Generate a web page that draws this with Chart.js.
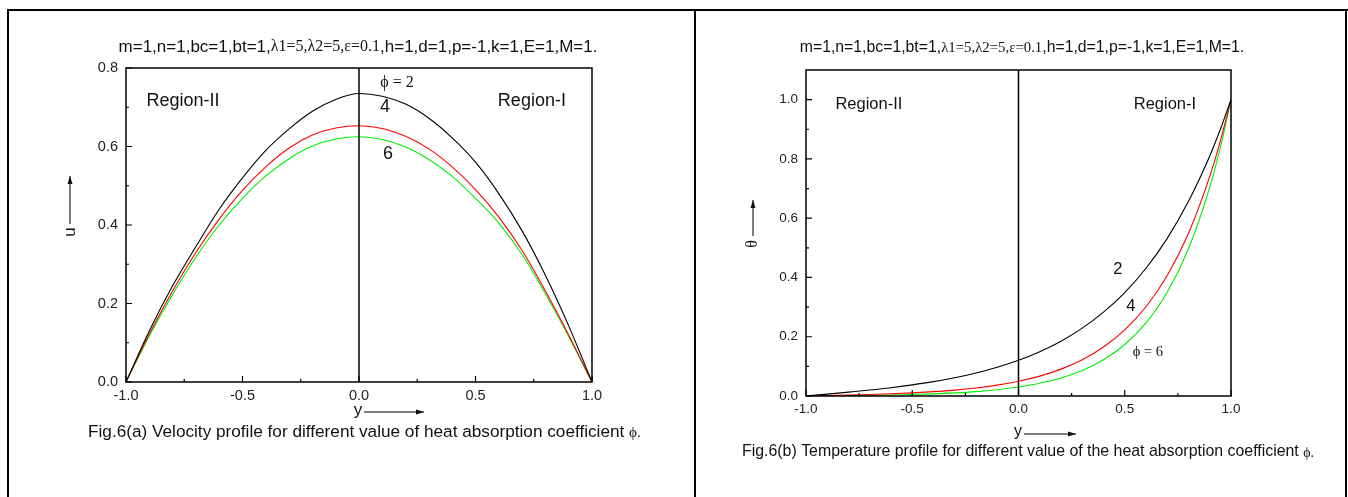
<!DOCTYPE html>
<html>
<head>
<meta charset="utf-8">
<script src="https://cdn.jsdelivr.net/npm/chart.js@4.4.1/dist/chart.umd.min.js"></script>
<style>
  body { margin: 0; background: #fff; width: 1348px; height: 497px; overflow: hidden; position: relative; }
  .rule { position: absolute; background: #000; }
  #boxA { position: absolute; left: 0; top: 0; width: 695px; height: 497px; }
  #boxB { position: absolute; left: 697px; top: 0; width: 651px; height: 497px; }
</style>
</head>
<body>
<div class="rule" style="left:7px;top:9px;width:1341px;height:2px"></div>
<div class="rule" style="left:7px;top:9px;width:2px;height:488px"></div>
<div class="rule" style="left:694px;top:9px;width:2px;height:488px"></div>
<div class="rule" style="left:1345px;top:9px;width:2px;height:488px"></div>
<div id="boxA"><canvas id="chartA" width="695" height="497"></canvas></div>
<div id="boxB"><canvas id="chartB" width="651" height="497"></canvas></div>
<script>
// ---- data ----
const Y_POS = [-1, -0.9, -0.8, -0.7, -0.6, -0.5, -0.4, -0.3, -0.2, -0.1, 0,
               0.1, 0.2, 0.3, 0.4, 0.5, 0.6, 0.7, 0.8, 0.9, 1]

// Fig.6(a) velocity u
const U_PHI2 = [0, 0.13, 0.245, 0.345, 0.44, 0.52, 0.59, 0.645, 0.69, 0.72, 0.735,
                0.728, 0.708, 0.672, 0.622, 0.56, 0.48, 0.385, 0.272, 0.143, 0]
const U_PHI4 = [0, 0.122, 0.232, 0.33, 0.415, 0.488, 0.548, 0.596, 0.629, 0.647, 0.653,
                0.646, 0.626, 0.594, 0.548, 0.49, 0.42, 0.335, 0.232, 0.12, 0]
const U_PHI6 = [0, 0.117, 0.223, 0.318, 0.4, 0.468, 0.525, 0.569, 0.601, 0.619, 0.625,
                0.618, 0.599, 0.567, 0.524, 0.468, 0.405, 0.325, 0.225, 0.116, 0]

// Fig.6(b) temperature theta
const Y_POS_T = [-1, -0.9, -0.8, -0.7, -0.6, -0.5, -0.4, -0.3, -0.2, -0.1, 0,
                 0.1, 0.2, 0.3, 0.4, 0.5, 0.6, 0.7, 0.8, 0.9, 0.95, 1]
const T_PHI2 = [0, 0.0063, 0.013, 0.02, 0.028, 0.0376, 0.0485, 0.0613, 0.0777, 0.097, 0.1206,
                0.1495, 0.185, 0.229, 0.283, 0.349, 0.431, 0.532, 0.657, 0.81, 0.9, 1]
const T_PHI4 = [0, 0.0015, 0.0032, 0.0051, 0.0075, 0.0106, 0.0146, 0.0199, 0.0271, 0.0367, 0.0497,
                0.0671, 0.0907, 0.1224, 0.1653, 0.2231, 0.3012, 0.4066, 0.549, 0.741, 0.861, 1]
const T_PHI6 = [0, 0.0007, 0.0014, 0.0023, 0.0035, 0.0051, 0.0073, 0.0105, 0.0149, 0.0212, 0.0302,
                0.0428, 0.0608, 0.0863, 0.1225, 0.1737, 0.2466, 0.3498, 0.4966, 0.7047, 0.8395, 1]

const X_TICKS = [-1, -0.5, 0, 0.5, 1]
const X_MINOR = [-0.75, -0.25, 0.25, 0.75]
const U_TICKS = [0, 0.2, 0.4, 0.6, 0.8]
const U_MINOR = [0.1, 0.3, 0.5, 0.7]
const T_TICKS = [0, 0.2, 0.4, 0.6, 0.8, 1.0]
const T_MINOR = [0.1, 0.3, 0.5, 0.7, 0.9]

const PARAM_TITLE = [
  ["m=1,n=1,bc=1,bt=1,", "sans"],
  ["\u03bb1=5,\u03bb2=5,\u03b5=0.1", "serif"],
  [",h=1,d=1,p=-1,k=1,E=1,M=1.", "sans"]
]
const PHI = "\u03d5"
const CAPTION_A = "Fig.6(a) Velocity profile for different value of heat absorption coefficient "
const CAPTION_B = "Fig.6(b) Temperature profile for different value of the heat absorption coefficient "

const SANS = '"Liberation Sans", Arial, sans-serif'
const SERIF = '"Liberation Serif", "Times New Roman", "DejaVu Serif", serif'

// ---- helpers ----
function pts(xs, ys) {
  return xs.map((x, i) => ({ x: x, y: ys[i] }))
}

function arrowLine(ctx, x1, y1, x2, y2) {
  ctx.beginPath()
  ctx.moveTo(x1, y1)
  ctx.lineTo(x2, y2)
  ctx.stroke()
  const ang = Math.atan2(y2 - y1, x2 - x1)
  ctx.beginPath()
  ctx.moveTo(x2, y2)
  ctx.lineTo(x2 - 8 * Math.cos(ang) + 2.5 * Math.sin(ang), y2 - 8 * Math.sin(ang) - 2.5 * Math.cos(ang))
  ctx.lineTo(x2 - 8 * Math.cos(ang) - 2.5 * Math.sin(ang), y2 - 8 * Math.sin(ang) + 2.5 * Math.cos(ang))
  ctx.closePath()
  ctx.fill()
}

// frame, inner ticks, annotations and captions
const decor = {
  id: "decor",
  afterDatasetsDraw(chart, args, o) {
    const { ctx, chartArea: a, scales: { x, y } } = chart
    ctx.save()
    ctx.strokeStyle = "#000"
    ctx.fillStyle = "#000"
    ctx.lineWidth = 1.5
    ctx.strokeRect(a.left, a.top, a.right - a.left, a.bottom - a.top)
    const zx = x.getPixelForValue(0)
    ctx.beginPath()
    ctx.moveTo(zx, a.top)
    ctx.lineTo(zx, a.bottom)
    ctx.stroke()

    // ticks pointing into the plot
    ctx.lineWidth = 1.2
    ctx.beginPath()
    X_TICKS.forEach(v => { const p = x.getPixelForValue(v); ctx.moveTo(p, a.bottom); ctx.lineTo(p, a.bottom - 6) })
    X_MINOR.forEach(v => { const p = x.getPixelForValue(v); ctx.moveTo(p, a.bottom); ctx.lineTo(p, a.bottom - 3) })
    o.yTicks.forEach(v => { const p = y.getPixelForValue(v); ctx.moveTo(a.left, p); ctx.lineTo(a.left + 6, p) })
    o.yMinor.forEach(v => { const p = y.getPixelForValue(v); ctx.moveTo(a.left, p); ctx.lineTo(a.left + 3, p) })
    ctx.stroke()

    // parameter line above the plot
    ctx.textBaseline = "middle"
    ctx.fillStyle = "#111"
    const fontOf = kind => kind === "sans" ? o.titleSize + "px " + SANS : (o.titleSize - 1) + "px " + SERIF
    let total = 0
    PARAM_TITLE.forEach(([t, k]) => { ctx.font = fontOf(k); total += ctx.measureText(t).width })
    let cx = o.titleX - total / 2
    ctx.textAlign = "left"
    PARAM_TITLE.forEach(([t, k]) => { ctx.font = fontOf(k); ctx.fillText(t, cx, o.titleY); cx += ctx.measureText(t).width })

    // labels placed in data units
    ctx.textAlign = "center"
    o.notes.forEach(n => {
      ctx.font = n.size + "px " + (n.serif ? SERIF : SANS)
      ctx.fillText(n.text, x.getPixelForValue(n.x), y.getPixelForValue(n.y))
    })

    // axis titles with arrows
    ctx.lineWidth = 1
    ctx.font = o.axisSize + "px " + SANS
    ctx.fillText("y", o.xTitle[0], o.xTitle[1])
    arrowLine(ctx, o.xTitle[0] + 6, o.xTitle[1] + 2, o.xTitle[0] + o.arrowLen, o.xTitle[1] + 2)
    ctx.save()
    ctx.translate(o.yTitle[0], o.yTitle[1])
    ctx.rotate(-Math.PI / 2)
    ctx.font = o.axisSize + "px " + (o.yName === "u" ? SANS : SERIF)
    ctx.fillText(o.yName, 0, 0)
    ctx.restore()
    arrowLine(ctx, o.yTitle[0], o.yTitle[1] - 8, o.yTitle[0], o.yTitle[1] - 8 - o.arrowLenY)

    // caption
    ctx.textAlign = "left"
    ctx.font = o.capSize + "px " + SANS
    ctx.fillText(o.caption, o.capX, o.capY)
    const w = ctx.measureText(o.caption).width
    ctx.font = (o.capSize - 2) + "px " + SERIF
    ctx.fillText(PHI + ".", o.capX + w, o.capY + 1)
    ctx.restore()
  }
}

function makeChart(id, xs, series, yMax, yTicks, pad, tickSize, decorOpts) {
  const colors = ["#000000", "#ff0000", "#00ee00"]
  return new Chart(document.getElementById(id), {
    type: "line",
    data: {
      datasets: series.map((s, i) => ({
        data: pts(xs, s),
        borderColor: colors[i],
        borderWidth: 1.1,
        pointRadius: 0,
        fill: false,
        cubicInterpolationMode: "monotone"
      }))
    },
    options: {
      responsive: false,
      animation: false,
      events: [],
      layout: { padding: pad },
      plugins: { legend: { display: false }, tooltip: { enabled: false }, decor: decorOpts },
      scales: {
        x: {
          type: "linear", min: -1, max: 1,
          grid: { display: false, drawTicks: false },
          border: { display: false },
          afterBuildTicks: s => { s.ticks = X_TICKS.map(v => ({ value: v })) },
          afterFit: s => { s.height = 30 },
          ticks: {
            callback: v => v.toFixed(1), maxRotation: 0, autoSkip: false,
            padding: 5, color: "#222", font: { family: SANS, size: tickSize }
          }
        },
        y: {
          min: 0, max: yMax,
          grid: { display: false, drawTicks: false },
          border: { display: false },
          afterBuildTicks: s => { s.ticks = yTicks.map(v => ({ value: v })) },
          afterFit: s => { s.width = 40 },
          ticks: {
            callback: v => v.toFixed(1),
            padding: 8, color: "#222", font: { family: SANS, size: tickSize }
          }
        }
      }
    },
    plugins: [decor]
  })
}

makeChart("chartA", Y_POS, [U_PHI2, U_PHI4, U_PHI6], 0.8, U_TICKS,
  { left: 86, top: 68, right: 103, bottom: 85 }, 14.5, {
    yTicks: U_TICKS, yMinor: U_MINOR,
    titleX: 358, titleY: 47, titleSize: 17,
    notes: [
      { text: "Region-II", x: -0.755, y: 0.716, size: 18 },
      { text: "Region-I", x: 0.742, y: 0.716, size: 18 },
      { text: PHI + " = 2", x: 0.163, y: 0.762, size: 16, serif: true },
      { text: "4", x: 0.112, y: 0.70, size: 18 },
      { text: "6", x: 0.124, y: 0.581, size: 18 }
    ],
    axisSize: 17, xTitle: [358, 410], arrowLen: 66,
    yName: "u", yTitle: [70, 232], arrowLenY: 48,
    caption: CAPTION_A, capSize: 17.2, capX: 88, capY: 432
  })

makeChart("chartB", Y_POS_T, [T_PHI2, T_PHI4, T_PHI6], 1.1, T_TICKS,
  { left: 69, top: 70, right: 117, bottom: 71 }, 13.5, {
    yTicks: T_TICKS, yMinor: T_MINOR,
    titleX: 1022 - 697, titleY: 48, titleSize: 15.8,
    notes: [
      { text: "Region-II", x: -0.704, y: 0.984, size: 16.5 },
      { text: "Region-I", x: 0.689, y: 0.984, size: 16.5 },
      { text: "2", x: 0.468, y: 0.428, size: 16.5 },
      { text: "4", x: 0.529, y: 0.303, size: 16.5 },
      { text: PHI + " = 6", x: 0.609, y: 0.148, size: 14.5, serif: true }
    ],
    axisSize: 16, xTitle: [321, 432], arrowLen: 58,
    yName: "\u03b8", yTitle: [56, 244], arrowLenY: 36,
    caption: CAPTION_B, capSize: 15.9, capX: 45, capY: 452
  })
</script>
</body>
</html>
